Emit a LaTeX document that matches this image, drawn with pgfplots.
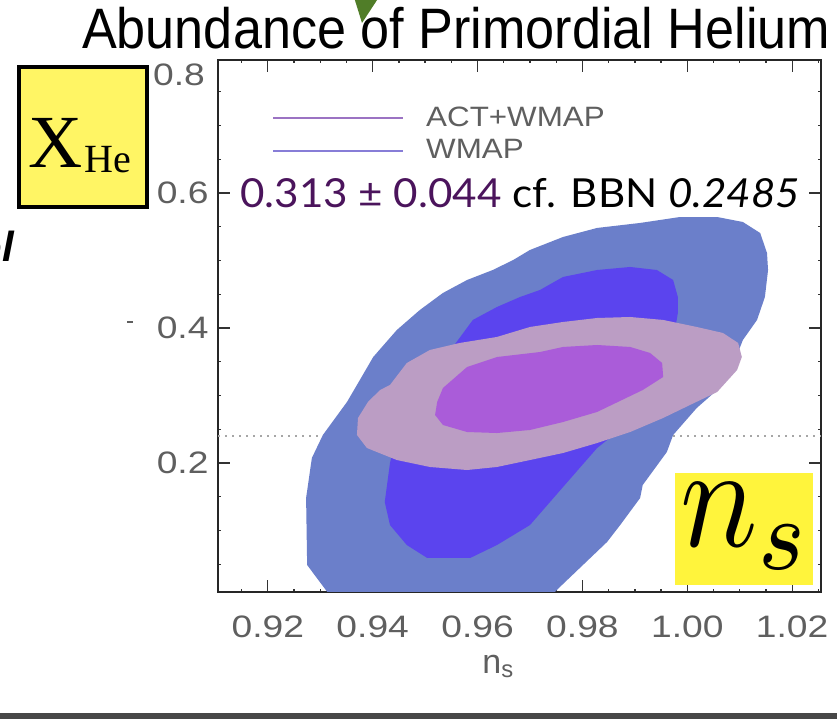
\documentclass[border=0pt]{standalone}
\usepackage{pgfplots}
\pgfplotsset{compat=1.18}
\usepackage{graphicx}
\usepackage{fontspec}
\setmainfont{Liberation Sans}
\newfontfamily\serifface{Liberation Serif}
\newfontfamily\humanist{Lato}

\definecolor{wmapouter}{RGB}{107,127,202}
\definecolor{wmapinner}{RGB}{91,68,238}
\definecolor{actouter}{RGB}{187,157,196}
\definecolor{actinner}{RGB}{170,92,217}
\definecolor{actline}{RGB}{155,115,195}
\definecolor{wmapline}{RGB}{135,125,215}
\definecolor{ticktext}{RGB}{95,95,95}
\definecolor{valpurple}{RGB}{75,20,92}
\definecolor{boxyellow}{RGB}{255,245,100}
\definecolor{nsyellow}{RGB}{255,244,60}
\definecolor{arrowgreen}{RGB}{80,125,40}

\newcommand{\wide}[1]{\scalebox{1.2}[1]{#1}}

\begin{document}
\begin{tikzpicture}
\useasboundingbox (0pt,0pt) rectangle (837pt,719pt);
\fill[white] (0pt,0pt) rectangle (837pt,719pt);

\begin{axis}[
  at={(218pt,127pt)}, anchor=south west,
  scale only axis, width=603pt, height=532pt,
  xmin=0.9105, xmax=1.0255, ymin=0.0089, ymax=0.797,
  xtick={0.92,0.94,0.96,0.98,1.00,1.02},
  ytick={0.2,0.4,0.6},
  minor xtick={0.915,0.925,0.93,0.935,0.945,0.95,0.955,0.965,0.97,0.975,0.985,0.99,0.995,1.005,1.01,1.015,1.025},
  minor ytick={0.05,0.1,0.15,0.25,0.3,0.35,0.45,0.5,0.55,0.65,0.7,0.75},
  tick align=inside, major tick length=12pt,
  axis line style={line width=2pt, black!85},
  tick style={line width=1.3pt, black!80},
  /pgf/number format/assume math mode=true,
  xticklabel={\textcolor{ticktext}{\wide{\pgfmathprintnumber[fixed,fixed zerofill,precision=2]{\tick}}}},
  yticklabel={\textcolor{ticktext}{\wide{\pgfmathprintnumber[fixed,fixed zerofill,precision=1]{\tick}}}},
  ticklabel style={font=\fontsize{31}{31}\selectfont},
  xticklabel style={yshift=-20pt},
  yticklabel style={xshift=-6pt},
]

% BBN reference value
\addplot[gray!70, line width=1.6pt, dash pattern=on 2pt off 5pt]
  coordinates {(0.9105,0.24) (1.0255,0.24)};

% WMAP alone, 95% region
\addplot[fill=wmapouter, draw=none] coordinates {
 (0.9322,0.0) (0.9275,0.0489) (0.9273,0.1481) (0.9284,0.2074) (0.9305,0.2415)
 (0.9351,0.2904) (0.9370,0.3156) (0.9401,0.3570) (0.9446,0.3970) (0.9490,0.4267)
 (0.9534,0.4519) (0.9580,0.4711) (0.9629,0.4859) (0.9668,0.5007) (0.9700,0.5156)
 (0.9763,0.5348) (0.9828,0.5482) (0.9910,0.5556) (0.9986,0.5644) (1.0057,0.5644)
 (1.0106,0.5570) (1.0139,0.5407) (1.0152,0.5111) (1.0154,0.4859) (1.0148,0.4459)
 (1.0133,0.4119) (1.0106,0.3822) (1.0091,0.3526) (1.0068,0.3156) (1.0018,0.2815)
 (0.9973,0.2415) (0.9961,0.2163) (0.9915,0.1674) (0.9910,0.1481) (0.9872,0.1081)
 (0.9847,0.0830) (0.9801,0.0489) (0.9757,0.0163) (0.9736,0.0)
};

% WMAP alone, 68% region
\addplot[fill=wmapinner, draw=none] coordinates {
 (0.9423,0.1422) (0.9433,0.2000) (0.9452,0.2637) (0.9500,0.3230) (0.9553,0.3719)
 (0.9591,0.4119) (0.9637,0.4311) (0.9681,0.4459) (0.9719,0.4563) (0.9763,0.4756)
 (0.9828,0.4859) (0.9891,0.4904) (0.9942,0.4859) (0.9973,0.4711) (0.9982,0.4459)
 (0.9982,0.4222) (0.9967,0.3526) (0.9919,0.2785) (0.9828,0.2222) (0.9763,0.1644)
 (0.9700,0.1081) (0.9637,0.0785) (0.9586,0.0593) (0.9504,0.0593) (0.9465,0.0785)
 (0.9433,0.1081)
};

% ACT+WMAP, 95% region
\addplot[fill=actouter, draw=none] coordinates {
 (0.9370,0.2415) (0.9372,0.2667) (0.9391,0.2904) (0.9414,0.3081) (0.9433,0.3156)
 (0.9465,0.3481) (0.9509,0.3674) (0.9566,0.3778) (0.9637,0.3867) (0.9700,0.4015)
 (0.9763,0.4089) (0.9828,0.4148) (0.9891,0.4163) (0.9954,0.4119) (1.0018,0.4015)
 (1.0068,0.3926) (1.0097,0.3778) (1.0104,0.3570) (1.0095,0.3378) (1.0057,0.3052)
 (1.0005,0.2859) (0.9954,0.2667) (0.9891,0.2459) (0.9828,0.2296) (0.9763,0.2148)
 (0.9700,0.2044) (0.9637,0.1941) (0.9580,0.1896) (0.9509,0.1941) (0.9446,0.2044)
 (0.9389,0.2222)
};

% ACT+WMAP, 68% region
\addplot[fill=actinner, draw=none] coordinates {
 (0.9534,0.3111) (0.9580,0.3422) (0.9637,0.3570) (0.9719,0.3644) (0.9763,0.3719)
 (0.9828,0.3748) (0.9891,0.3719) (0.9929,0.3630) (0.9952,0.3481) (0.9954,0.3274)
 (0.9915,0.3081) (0.9828,0.2756) (0.9763,0.2607) (0.9700,0.2489) (0.9637,0.2444)
 (0.9580,0.2459) (0.9534,0.2563) (0.9519,0.2711) (0.9523,0.2904)
};
\end{axis}

\begin{scope}[x=1pt,y=1pt]
% legend key
\draw[actline, line width=2.2pt] (273,601) -- (403,601);
\draw[wmapline, line width=2.2pt] (273,568) -- (403,568);
\node[anchor=base west, inner sep=0pt, text=ticktext, font=\fontsize{28}{28}\selectfont] at (426,592) {\scalebox{1.12}[1]{ACT+WMAP}};
\node[anchor=base west, inner sep=0pt, text=ticktext, font=\fontsize{28}{28}\selectfont] at (426,560) {\scalebox{1.12}[1]{WMAP}};

% axis title below the tick labels
\node[anchor=north, inner sep=0pt, text=ticktext, font=\fontsize{34}{34}\selectfont] at (498,64) {n\textsubscript{s}};

% label of the top y tick
\node[anchor=east, inner sep=0pt, text=ticktext, font=\fontsize{31}{31}\selectfont] at (205,644) {\wide{0.8}};
\draw[ticktext, line width=1.2pt] (127,397) -- (133,397);

% measured helium fraction
\node[anchor=base west, inner sep=0pt] at (240,511)
  {\resizebox{560pt}{\height}{\humanist\fontsize{40}{40}\selectfont\textcolor{valpurple}{0.313 ± 0.044} cf. BBN \textit{0.2485}}};

% title and pointer
\node[anchor=base west, inner sep=0pt] at (82,670)
  {\resizebox{748pt}{\height}{\fontsize{57}{57}\selectfont Abundance of Primordial Helium}};
\fill[arrowgreen] (353,725) -- (381,725) -- (362,696) -- cycle;

% parameter boxes
\draw[line width=4pt, fill=boxyellow] (19,652) rectangle (147,512);
\node[anchor=base west, inner sep=0pt, font=\serifface\fontsize{75}{75}\selectfont] at (28,551) {X};
\node[anchor=base west, inner sep=0pt, font=\serifface\fontsize{40}{40}\selectfont] at (84,546) {He};
\fill[nsyellow] (675,134) rectangle (813,246);
\node[anchor=base west, inner sep=0pt] at (680,172) {\scalebox{12.9}[14.7]{$n_s$}};

% fragment of neighbouring text and frame edge
\node[anchor=base east, inner sep=0pt, font=\bfseries\itshape\fontsize{42}{42}\selectfont] at (14,457) {ol};
\fill[black!72] (0,0) rectangle (837,6);
\end{scope}
\end{tikzpicture}
\end{document}
